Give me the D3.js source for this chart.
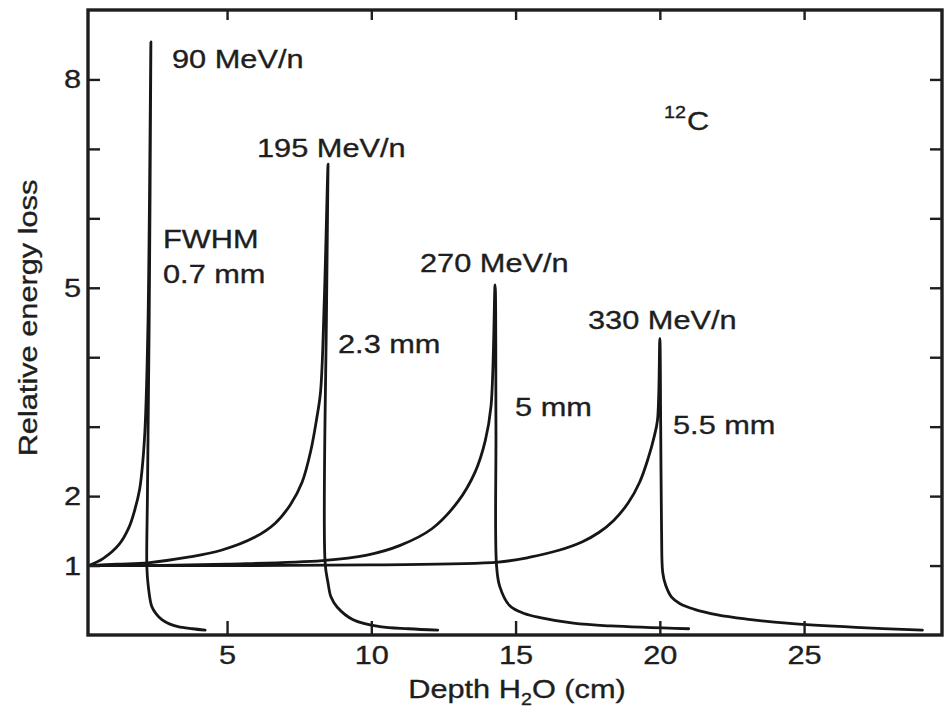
<!DOCTYPE html>
<html><head><meta charset="utf-8">
<script src="https://cdn.jsdelivr.net/npm/d3@7"></script>
<style>
html,body{margin:0;padding:0;background:#fff;}
svg text{font-family:"Liberation Sans",Arial,Helvetica,sans-serif;fill:#1e1e1e;stroke:#1e1e1e;stroke-width:0.35px;}
</style></head><body>
<svg id="chart" width="948" height="714"></svg>
<script>
// ---------- data ----------
const xTicks = [5, 10, 15, 20, 25];
const yTicks = [1, 2, 3, 4, 5, 6, 7, 8];
const yTickLabels = [1, 2, 5, 8];
const beamLabels = ["90 MeV/n", "195 MeV/n", "270 MeV/n", "330 MeV/n"];
const fwhmLabels = ["0.7 mm", "2.3 mm", "5 mm", "5.5 mm"];

const depth90 = [0.2, 0.7, 1.25, 1.6, 1.8, 1.97, 2.08, 2.16, 2.26, 2.36, 2.3, 2.24, 2.22, 2.27, 2.39, 2.55, 2.74, 3.0, 3.3, 3.8, 4.24];
const loss90  = [1.0, 1.1, 1.3, 1.55, 1.8, 2.1, 2.5, 3.0, 4.5, 8.54, 4.5, 2.0, 0.98, 0.7, 0.41, 0.3, 0.22, 0.16, 0.12, 0.09, 0.07];

const depth195 = [0.2, 1.2, 2.26, 3.65, 4.8, 5.97, 6.67, 7.2, 7.6, 7.9, 8.1, 8.24, 8.37, 8.5, 8.45, 8.4, 8.5, 8.6, 8.82, 9.37, 10.3, 11.3, 12.3];
const loss195  = [1.0, 1.02, 1.04, 1.12, 1.22, 1.41, 1.61, 1.88, 2.2, 2.65, 3.1, 3.5, 4.82, 6.78, 4.8, 1.03, 0.75, 0.55, 0.40, 0.22, 0.12, 0.09, 0.07];

const depth270 = [0.2, 2.3, 5.0, 8.3, 9.85, 11.0, 12.1, 13.0, 13.6, 13.95, 14.15, 14.29, 14.32, 14.34, 14.45, 14.8, 15.3, 15.85, 17.0, 18.3, 21.0];
const loss270  = [1.0, 1.0, 1.02, 1.07, 1.15, 1.29, 1.53, 1.92, 2.35, 2.8, 3.3, 5.04, 3.0, 1.0, 0.7, 0.42, 0.31, 0.25, 0.17, 0.13, 0.09];

const depth330 = [0.2, 5.0, 10.0, 14.4, 15.5, 16.5, 17.3, 17.9, 18.4, 18.9, 19.3, 19.6, 19.8, 19.92, 20.0, 20.03, 20.06, 20.1, 20.2, 20.4, 20.7, 21.2, 22.0, 23.0, 24.4, 26.8, 29.1];
const loss330  = [1.0, 1.0, 1.01, 1.05, 1.12, 1.22, 1.34, 1.48, 1.65, 1.9, 2.2, 2.55, 2.85, 3.1, 4.27, 3.0, 1.5, 0.9, 0.72, 0.55, 0.45, 0.37, 0.29, 0.23, 0.17, 0.11, 0.07];

const seriesDepth = [depth90, depth195, depth270, depth330];
const seriesLoss  = [loss90, loss195, loss270, loss330];

// ---------- layout ----------
const L = 88, R = 942, T = 10, B = 635;
const FS = 26.5, SX = 1.16;
const ink = "#1e1e1e";

const svg = d3.select("#chart");
const x = d3.scaleLinear().domain([0.18, 29.78]).range([L, R]);
const y = d3.scaleLinear().domain([0, 9]).range([B, T]);

svg.append("defs").append("clipPath").attr("id", "plot")
  .append("rect").attr("x", L).attr("y", T).attr("width", R - L).attr("height", B - T);

// curves
const line = d3.line().x(d => x(d[0])).y(d => y(d[1])).curve(d3.curveCatmullRom.alpha(0.5));
svg.append("g").attr("clip-path", "url(#plot)")
  .selectAll("path").data(seriesDepth.map((dx, i) => d3.zip(dx, seriesLoss[i])))
  .join("path")
  .attr("d", line)
  .attr("fill", "none").attr("stroke", "#161616").attr("stroke-width", 2.8)
  .attr("stroke-linejoin", "round").attr("stroke-linecap", "round");

// axes
function styleAxis(g) {
  g.select(".domain").remove();
  g.selectAll(".tick line").attr("stroke", ink).attr("stroke-width", 2.4);
  g.selectAll(".tick text").attr("font-size", FS).attr("transform", `scale(${SX},1)`);
}
svg.append("g").attr("transform", `translate(${L},0)`)
  .call(d3.axisLeft(y).tickValues(yTicks).tickSizeInner(-12).tickSizeOuter(0).tickPadding(6)
    .tickFormat(d => yTickLabels.includes(d) ? d : ""))
  .call(styleAxis);
svg.append("g").attr("transform", `translate(${R},0)`)
  .call(d3.axisRight(y).tickValues(yTicks).tickSizeInner(-12).tickSizeOuter(0).tickFormat(""))
  .call(styleAxis);
svg.append("g").attr("transform", `translate(0,${B})`)
  .call(d3.axisBottom(x).tickValues(xTicks).tickSizeInner(-14).tickSizeOuter(0).tickPadding(10))
  .call(styleAxis);
svg.append("g").attr("transform", `translate(0,${T})`)
  .call(d3.axisTop(x).tickValues(xTicks).tickSizeInner(-10).tickSizeOuter(0).tickFormat(""))
  .call(styleAxis);

// frame
svg.append("rect").attr("x", L).attr("y", T).attr("width", R - L).attr("height", B - T)
  .attr("fill", "none").attr("stroke", ink).attr("stroke-width", 3.4);

// text helper
function label(px, py, str, size = FS, anchor = "start", rot = 0) {
  const g = svg.append("g").attr("transform", `translate(${px},${py}) rotate(${rot})`);
  return g.append("text").attr("text-anchor", anchor).attr("font-size", size)
    .attr("transform", `scale(${SX},1)`).text(str);
}

// beam energy labels
label(172, 68, beamLabels[0]);
label(257, 157, beamLabels[1]);
label(420, 272, beamLabels[2]);
label(588, 329, beamLabels[3]);

// FWHM labels
label(163, 248, "FWHM");
label(163, 283, fwhmLabels[0]);
label(338, 353, fwhmLabels[1]);
label(515, 416, fwhmLabels[2]);
label(673, 434, fwhmLabels[3]);

// 12C
label(664, 118, "12", 17);
label(687, 130, "C");

// axis titles
label(37, 318, "Relative energy loss", FS, "middle", -90);

const xt = svg.append("g").attr("transform", `translate(517,698)`)
  .append("text").attr("text-anchor", "middle").attr("font-size", FS)
  .attr("transform", `scale(${SX},1)`);
xt.append("tspan").text("Depth H");
xt.append("tspan").attr("font-size", 17).attr("dy", 7).text("2");
xt.append("tspan").attr("dy", -7).text("O (cm)");
</script>
</body></html>
